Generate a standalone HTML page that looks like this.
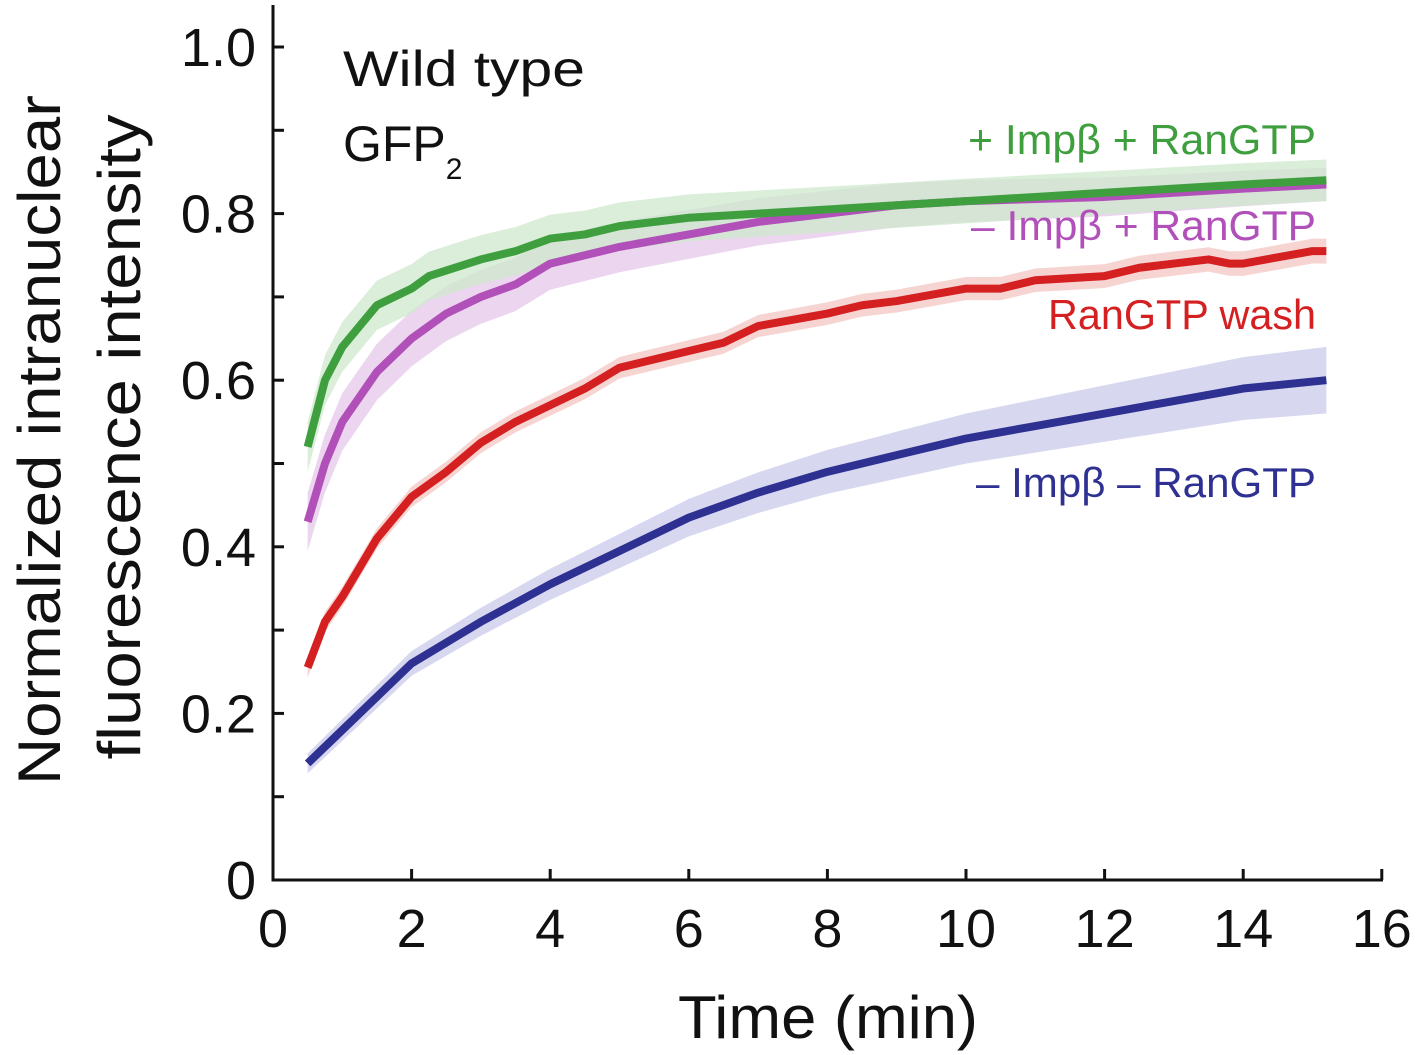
<!DOCTYPE html>
<html><head><meta charset="utf-8"><style>
html,body{margin:0;padding:0;background:#fff;}
svg{display:block;font-family:"Liberation Sans",sans-serif;}
</style></head><body>
<svg id="chart" width="1423" height="1055" viewBox="0 0 1423 1055">
<g id="bands"></g><g id="lines"></g><g id="axes"></g>
<text x="343" y="86" font-size="50" fill="#111" textLength="242" lengthAdjust="spacingAndGlyphs">Wild type</text>
<text x="343" y="161" font-size="50" fill="#111">GFP<tspan font-size="30" dy="18">2</tspan></text>
<text x="1316" y="154" font-size="42" fill="#3f9f3f" text-anchor="end" textLength="348" lengthAdjust="spacingAndGlyphs">+ Impβ + RanGTP</text>
<text x="1316" y="240" font-size="42" fill="#b050b8" text-anchor="end" textLength="345" lengthAdjust="spacingAndGlyphs">– Impβ + RanGTP</text>
<text x="1316" y="329" font-size="42" fill="#d42020" text-anchor="end" textLength="268" lengthAdjust="spacingAndGlyphs">RanGTP wash</text>
<text x="1316" y="497" font-size="42" fill="#2e3192" text-anchor="end" textLength="340" lengthAdjust="spacingAndGlyphs">– Impβ – RanGTP</text>
<text x="828" y="1038" font-size="60" fill="#111" text-anchor="middle" textLength="300" lengthAdjust="spacingAndGlyphs">Time (min)</text>
<text transform="translate(60,440) rotate(-90)" font-size="60" fill="#111" text-anchor="middle" textLength="690" lengthAdjust="spacingAndGlyphs">Normalized intranuclear</text>
<text transform="translate(140,437) rotate(-90)" font-size="60" fill="#111" text-anchor="middle" textLength="645" lengthAdjust="spacingAndGlyphs">fluorescence intensity</text>
</svg>
<script>
const greenT=[0.5,0.75,1,1.5,2,2.25,3,3.5,4,4.5,5,6,7,8,9,10,11,12,13,14,15.2];
const greenV=[0.52,0.60,0.64,0.69,0.71,0.725,0.745,0.755,0.77,0.775,0.785,0.795,0.80,0.805,0.81,0.815,0.82,0.825,0.83,0.835,0.84];
const purpleT=[0.5,0.75,1,1.5,2,2.5,3,3.5,4,5,6,7,8,9,10,12,14,15.2];
const purpleV=[0.43,0.50,0.55,0.61,0.65,0.68,0.70,0.715,0.74,0.76,0.775,0.79,0.80,0.81,0.815,0.82,0.83,0.835];
const redT=[0.5,0.75,1,1.5,2,2.5,3,3.5,4,4.5,5,6,6.5,7,8,8.5,9,10,10.5,11,12,12.5,13,13.5,13.8,14,15,15.2];
const redV=[0.255,0.31,0.34,0.41,0.46,0.49,0.525,0.55,0.57,0.59,0.615,0.635,0.645,0.665,0.68,0.69,0.695,0.71,0.71,0.72,0.725,0.735,0.74,0.745,0.74,0.74,0.755,0.755];
const blueT=[0.5,1,1.5,2,3,4,5,6,7,8,9,10,11,12,13,14,15.2];
const blueV=[0.14,0.18,0.22,0.26,0.31,0.355,0.395,0.435,0.465,0.49,0.51,0.53,0.545,0.56,0.575,0.59,0.60];
const xTicks=[0,2,4,6,8,10,12,14,16];
const yTicks=[0,0.2,0.4,0.6,0.8,1.0];
const yTickLabels=["0","0.2","0.4","0.6","0.8","1.0"];
const NS="http://www.w3.org/2000/svg";
const X=t=>273+t*69.3, Y=v=>880-v*833;
function mk(tag,attrs,parent){const e=document.createElementNS(NS,tag);for(const k in attrs)e.setAttribute(k,attrs[k]);parent.appendChild(e);return e;}
const bands=document.getElementById('bands'),lines=document.getElementById('lines'),axes=document.getElementById('axes');
const series=[
 {n:'blue',t:blueT,v:blueV,c:'#2e3192',b:'#c9cbea',w0:0.012,w1:0.04},
 {n:'red',t:redT,v:redV,c:'#d42020',b:'#f3c6c2',w0:0.012,w1:0.015},
 {n:'purple',t:purpleT,v:purpleV,c:'#b050b8',b:'#e6c8ea',w0:0.035,w1:0.02},
 {n:'green',t:greenT,v:greenV,c:'#3f9f3f',b:'#cde8cc',w0:0.03,w1:0.025}];
series.forEach(s=>{
 const up=[],dn=[];
 s.t.forEach((t,i)=>{const w=s.w0+(s.w1-s.w0)*(t-0.5)/14.7;up.push(X(t)+','+Y(s.v[i]+w));dn.unshift(X(t)+','+Y(s.v[i]-w));});
 const b=mk('polygon',{points:up.concat(dn).join(' '),fill:s.b,opacity:0.75},bands);
 
 
 const l=mk('polyline',{points:s.t.map((t,i)=>X(t)+','+Y(s.v[i])).join(' '),fill:'none',stroke:s.c,'stroke-width':8,'stroke-linejoin':'round'},lines);
 
 
});
const ya=mk('line',{x1:273,y1:5,x2:273,y2:881.5,stroke:'#111','stroke-width':3},axes);


const xa=mk('line',{x1:271.5,y1:880,x2:1383,y2:880,stroke:'#111','stroke-width':3},axes);


xTicks.forEach(t=>{
 if(t>0)mk('line',{x1:X(t),y1:880,x2:X(t),y2:869,stroke:'#111','stroke-width':3},axes);
 const tx=mk('text',{x:X(t),y:947,'font-size':54,'text-anchor':'middle',fill:'#111'},axes);tx.textContent=t;
 
 
});
for(let v=0.1;v<1.05;v+=0.1)mk('line',{x1:273,y1:Y(v),x2:284,y2:Y(v),stroke:'#111','stroke-width':3},axes);
yTicks.forEach((v,i)=>{
 const tx=mk('text',{x:256,y:Y(v)+19,'font-size':54,'text-anchor':'end',fill:'#111'},axes);tx.textContent=yTickLabels[i];
 
 
});
</script>
</body></html>
